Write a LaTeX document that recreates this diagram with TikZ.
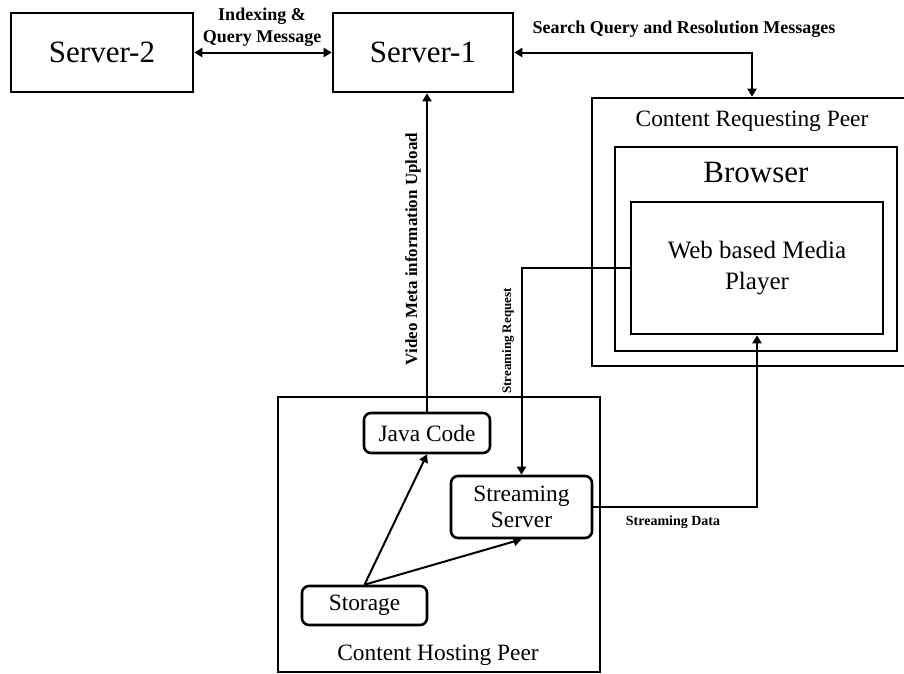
\documentclass[tikz,border=0pt]{standalone}
\usepackage{fontspec}
\setmainfont{Liberation Serif}
\usetikzlibrary{arrows.meta}

\newcommand{\fsz}[2]{\fontsize{#1}{#2}\selectfont}

\tikzset{
  sqbox/.style={draw, line width=2.6pt, inner sep=0pt, align=center},
  rbox/.style={draw, line width=2.6pt, inner sep=0pt, align=center, rounded corners=7pt},
  conn/.style={line width=2pt, -{Triangle[length=8pt,width=9pt]}},
  dconn/.style={line width=2pt, {Triangle[length=8pt,width=9pt]}-{Triangle[length=8pt,width=9pt]}},
  lbl/.style={inner sep=0pt, align=center, font=\bfseries},
  ttl/.style={inner sep=0pt, align=center},
}

\begin{document}
\begin{tikzpicture}[x=1pt,y=-1pt]
\useasboundingbox (0,0) rectangle (904,673);

% servers
\node[sqbox, minimum width=182pt, minimum height=79pt, font=\fsz{31}{36}] (s2) at (102,52.5) {Server-2};
\node[sqbox, minimum width=180pt, minimum height=79pt, font=\fsz{31}{36}] (s1) at (423,52.5) {Server-1};

% content requesting peer (right edge runs off the page)
\node[sqbox, minimum width=320pt, minimum height=268pt] (crp) at (752,232) {};
\node[ttl, anchor=base, font=\fsz{23.4}{28}] (crpt) at (752,126) {Content Requesting Peer};
\node[sqbox, minimum width=282pt, minimum height=204pt] (br) at (756,249) {};
\node[ttl, anchor=base, font=\fsz{31}{36}] (brt) at (756,182) {Browser};
\node[sqbox, minimum width=252pt, minimum height=132pt, font=\fsz{25}{31}] (wb) at (757,268) {Web based Media\\Player};

% content hosting peer
\node[sqbox, minimum width=322pt, minimum height=275pt] (chp) at (439,534.5) {};
\node[ttl, anchor=base, font=\fsz{23.4}{28}] (chpt) at (438,660) {Content Hosting Peer};
\node[rbox, minimum width=126pt, minimum height=40pt, font=\fsz{23.4}{28}] (jc) at (427,433) {Java Code};
\node[rbox, minimum width=141pt, minimum height=62pt, font=\fsz{23.4}{26}] (ss) at (521.5,507) {Streaming\\Server};
\node[rbox, minimum width=125pt, minimum height=39pt, font=\fsz{23.4}{28}] (st) at (364.5,605.5) {Storage};

% connectors
\draw[dconn] (s2.east) -- (s1.west);
\draw[dconn] (s1.east) -| (crp.north);
\draw[conn] (jc.north) -- (jc.north |- s1.south);
\draw[conn] (wb.west) -| (ss.north);
\draw[conn] (ss.east) -| (wb.south);
\draw[conn] (st.north) -- (jc.south);
\draw[conn] (st.north) -- (ss.south);

% connector labels
\node[lbl, font=\bfseries\fsz{18}{22}] (l1) at (262,27) {Indexing \&\\Query Message};
\node[lbl, anchor=base, font=\bfseries\fsz{18}{22}] (l2) at (684,33) {Search Query and Resolution Messages};
\node[lbl, rotate=90, font=\bfseries\fsz{17}{20}] (l3) at (413,249) {Video Meta information Upload};
\node[lbl, rotate=90, font=\bfseries\fsz{13}{16}] (l4) at (508,341) {Streaming Request};
\node[lbl, anchor=base, font=\bfseries\fsz{14}{17}] (l5) at (673,525) {Streaming Data};
\end{tikzpicture}
\end{document}
